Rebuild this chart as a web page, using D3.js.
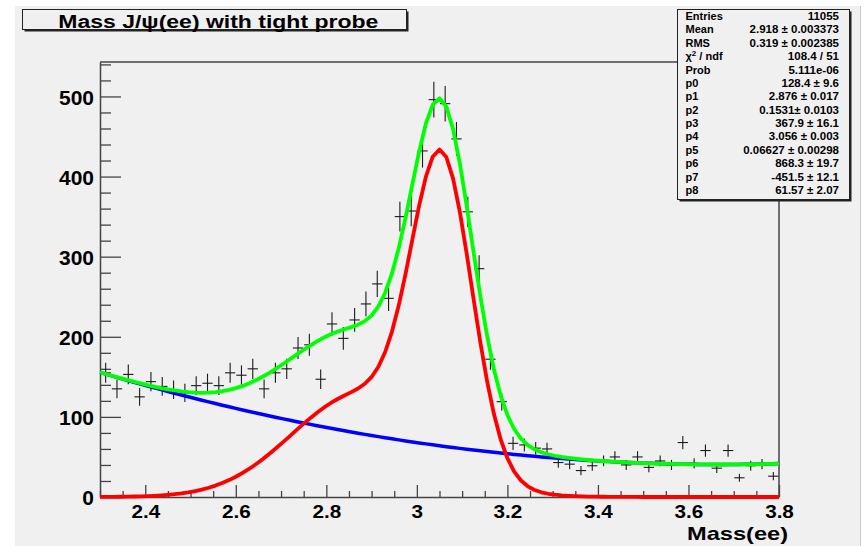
<!DOCTYPE html>
<html><head><meta charset="utf-8">
<script src="https://cdn.jsdelivr.net/npm/d3@7"></script>
<style>
body{margin:0;background:#fff}
svg{display:block}
text{font-family:"Liberation Sans",Arial,Helvetica,sans-serif;font-weight:bold;fill:#000}
</style>
</head><body>
<svg id="chart" width="867" height="546"></svg>
<script>
// ---------------- data ----------------
const histRange = [2.3, 3.8];
const binWidth = 0.025;
const counts = [
  155,135,153,125,144,138,134,130,139,142,
  139,155,152,160,135,155,160,186,190,147,
  216,198,221,241,266,248,350,357,432,496,
  491,447,356,285,172,119,67,65,61,60,
  43,41,33,39,45,50,40,50,37,45,
  40,68,42,58,36,58,24,39,41,26
];
const xTickValues = [2.4, 2.6, 2.8, 3.0, 3.2, 3.4, 3.6, 3.8];
const xTickLabels = ["2.4", "2.6", "2.8", "3", "3.2", "3.4", "3.6", "3.8"];
const yTickValues = [0, 100, 200, 300, 400, 500];
const yTickLabels = ["0", "100", "200", "300", "400", "500"];
// fit parameters p0..p8 (gaus + gaus + pol2), from the stats box
const fitParams = [128.4, 2.876, 0.1531, 367.9, 3.056, 0.06627, 868.3, -451.5, 61.57];
const titleText = "Mass J/\u03C8(ee) with tight probe";
const xAxisTitle = "Mass(ee)";
const statsLabels = ["Entries","Mean","RMS","CHI","Prob","p0","p1","p2","p3","p4","p5","p6","p7","p8"];
const statsValues = ["11055","2.918 \u00B1 0.003373","0.319 \u00B1 0.002385","108.4 / 51","5.111e-06",
  "128.4 \u00B1 9.6","2.876 \u00B1 0.017","0.1531\u00B1 0.0103","367.9 \u00B1 16.1","3.056 \u00B1 0.003",
  "0.06627 \u00B1 0.00298","868.3 \u00B1 19.7","-451.5 \u00B1 12.1","61.57 \u00B1 2.07"];

// ---------------- layout ----------------
const svg = d3.select("#chart");
const bg = "#f0f0f0";
svg.append("rect").attr("x",15).attr("y",6).attr("width",845).attr("height",540).attr("fill",bg);
svg.append("line").attr("x1",860.5).attr("x2",860.5).attr("y1",6).attr("y2",546).attr("stroke","#c8c8c8");

const x = d3.scaleLinear().domain(histRange).range([100, 779]);
const y = d3.scaleLinear().domain([0, 543]).range([497, 62]);
const axisColor = "#444";

// frame top/right
svg.append("path")
  .attr("d", `M${x.range()[0]},${y.range()[1]}H${x.range()[1]}V${y.range()[0]}`)
  .attr("fill","none").attr("stroke",axisColor).attr("stroke-width",1.5);

// y axis
const yMinor = d3.range(0, 541, 20).filter(v => v % 100 !== 0);
const gy = svg.append("g").attr("transform",`translate(${x.range()[0]},0)`);
gy.call(d3.axisLeft(y).tickValues(yTickValues).tickSize(-21).tickSizeOuter(0).tickPadding(6)
  .tickFormat((d,i) => yTickLabels[i]));
const gy2 = svg.append("g").attr("transform",`translate(${x.range()[0]},0)`);
gy2.call(d3.axisLeft(y).tickValues(yMinor).tickSize(-11).tickSizeOuter(0).tickFormat(""));
gy2.select(".domain").remove();
[gy, gy2].forEach(g => {
  g.selectAll("line").attr("stroke",axisColor).attr("stroke-width",1.3);
  g.selectAll(".domain").attr("stroke",axisColor).attr("stroke-width",1.5);
});
gy.selectAll("text").attr("font-size",21).attr("font-family",'"Liberation Sans",Arial,sans-serif')
  .attr("font-weight","bold").attr("fill","#000").attr("dy","0.36em");

// x axis
const xMinor = d3.range(0, 31).map(i => 2.3 + i*0.05).filter(v => !xTickValues.some(t => Math.abs(t - v) < 1e-6));
const gx = svg.append("g").attr("transform",`translate(0,${y.range()[0]})`);
gx.call(d3.axisBottom(x).tickValues(xTickValues).tickSize(-12).tickSizeOuter(0).tickPadding(8)
  .tickFormat((d,i) => xTickLabels[i]));
const gx2 = svg.append("g").attr("transform",`translate(0,${y.range()[0]})`);
gx2.call(d3.axisBottom(x).tickValues(xMinor).tickSize(-6).tickSizeOuter(0).tickFormat(""));
gx2.select(".domain").remove();
[gx, gx2].forEach(g => {
  g.selectAll("line").attr("stroke",axisColor).attr("stroke-width",1.3);
  g.selectAll(".domain").attr("stroke",axisColor).attr("stroke-width",1.5);
});
gx.selectAll("text").attr("font-size",18).attr("font-family",'"Liberation Sans",Arial,sans-serif')
  .attr("font-weight","bold").attr("fill","#000").attr("transform","scale(1.15,1)");

svg.append("text").attr("x",788).attr("y",540).attr("text-anchor","end")
  .attr("font-size",19).attr("textLength",101).attr("lengthAdjust","spacingAndGlyphs").text(xAxisTitle);

// ---------------- histogram points with errors ----------------
const pts = svg.append("g").attr("stroke","#1a1a1a").attr("stroke-width",1.1);
counts.forEach((c, i) => {
  const lo = histRange[0] + i*binWidth, hi = lo + binWidth, xc = lo + binWidth/2;
  const e = Math.sqrt(c);
  pts.append("line").attr("x1",x(lo)+0.5).attr("x2",x(hi)-0.5).attr("y1",y(c)).attr("y2",y(c));
  pts.append("line").attr("x1",x(xc)).attr("x2",x(xc)).attr("y1",y(c - e)).attr("y2",y(c + e));
});

// ---------------- fit functions ----------------
const p = fitParams;
const gaus = (t, a, m, s) => a * Math.exp(-0.5 * ((t - m) / s) ** 2);
const sig = t => gaus(t, p[0], p[1], p[2]) + gaus(t, p[3], p[4], p[5]);
const bkg = t => p[6] + p[7]*t + p[8]*t*t;
const npx = 100;
const xs = d3.range(npx + 1).map(i => histRange[0] + i*(histRange[1]-histRange[0])/npx);
const line = d3.line().x(d => x(d[0])).y(d => y(d[1]));
const curves = [
  {f: bkg, color: "#0000ff", w: 3.5},
  {f: sig, color: "#ff0000", w: 3.8},
  {f: t => sig(t) + bkg(t), color: "#00ff00", w: 3.8}
];
curves.forEach(cv => {
  svg.append("path").attr("d", line(xs.map(t => [t, cv.f(t)])))
    .attr("fill","none").attr("stroke",cv.color).attr("stroke-width",cv.w)
    .attr("stroke-linejoin","round");
});

// ---------------- title box ----------------
const tb = {x:22.5, y:9.5, w:384, h:20};
svg.append("rect").attr("x",tb.x+2).attr("y",tb.y+2).attr("width",tb.w).attr("height",tb.h).attr("fill","#222");
svg.append("rect").attr("x",tb.x).attr("y",tb.y).attr("width",tb.w).attr("height",tb.h)
  .attr("fill",bg).attr("stroke","#222").attr("stroke-width",1);
svg.append("text").attr("x",218.3).attr("y",28).attr("text-anchor","middle").attr("font-size",17.5)
  .attr("textLength",320).attr("lengthAdjust","spacingAndGlyphs").text(titleText);

// ---------------- stats box ----------------
const sb = {x:677.5, y:9.5, w:172, h:190};
svg.append("rect").attr("x",sb.x+2).attr("y",sb.y+2).attr("width",sb.w).attr("height",sb.h).attr("fill","#222");
svg.append("rect").attr("x",sb.x).attr("y",sb.y).attr("width",sb.w).attr("height",sb.h)
  .attr("fill",bg).attr("stroke","#222").attr("stroke-width",1);
const rowY = k => 16 + k * 13.38 + 4;
statsLabels.forEach((lab, k) => {
  const t = svg.append("text").attr("x",685.5).attr("y",rowY(k)).attr("font-size",11);
  if (lab === "CHI") {
    t.append("tspan").text("\u03C7");
    t.append("tspan").attr("dy",-4).attr("font-size",8).text("2");
    t.append("tspan").attr("dy",4).text(" / ndf");
  } else t.text(lab);
});
statsValues.forEach((v, k) => {
  svg.append("text").attr("x",839).attr("y",rowY(k)).attr("text-anchor","end").attr("font-size",11.5).text(v);
});
</script>
</body></html>
